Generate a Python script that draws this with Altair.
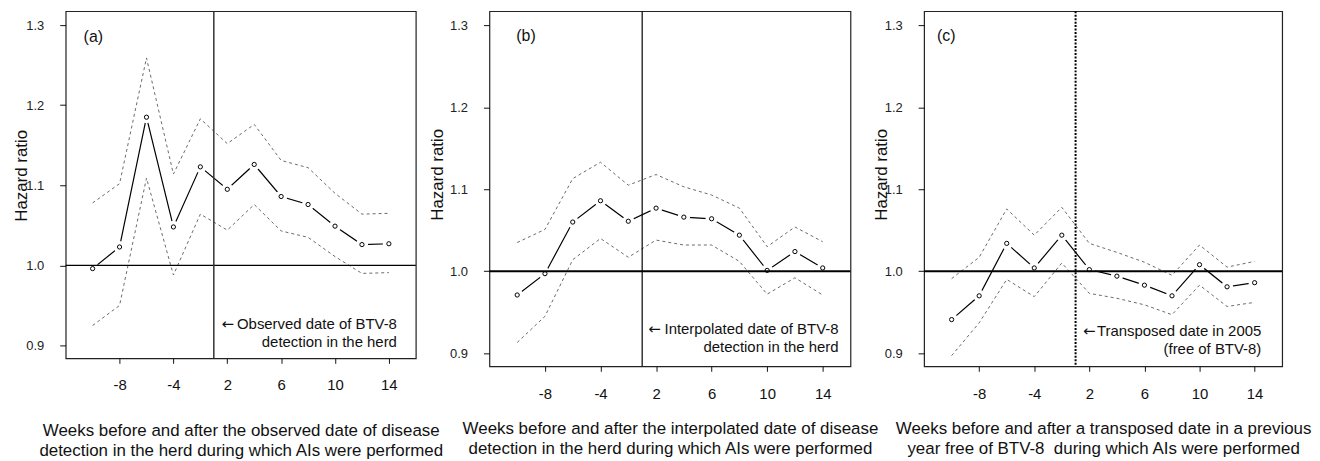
import altair as alt
import pandas as pd

# ---------------- data ----------------
weeks = [-10, -8, -6, -4, -2, 2, 4, 6, 8, 10, 12, 14]
tick_weeks = [-8, -4, 2, 6, 10, 14]
y_ticks = [0.9, 1.0, 1.1, 1.2, 1.3]

a_hr = [0.996, 1.023, 1.185, 1.048, 1.123, 1.095, 1.126, 1.086, 1.076, 1.049, 1.026, 1.027]
a_up = [1.078, 1.102, 1.259, 1.114, 1.183, 1.152, 1.176, 1.131, 1.122, 1.090, 1.064, 1.065]
a_lo = [0.925, 0.950, 1.109, 0.988, 1.064, 1.044, 1.076, 1.043, 1.035, 1.011, 0.990, 0.991]

b_hr = [0.971, 0.997, 1.060, 1.086, 1.061, 1.077, 1.066, 1.064, 1.044, 1.001, 1.024, 1.004]
b_up = [1.035, 1.051, 1.113, 1.133, 1.105, 1.118, 1.103, 1.093, 1.077, 1.030, 1.054, 1.036]
b_lo = [0.913, 0.945, 1.014, 1.040, 1.017, 1.038, 1.032, 1.032, 1.012, 0.972, 0.992, 0.971]

c_hr = [0.941, 0.970, 1.034, 1.004, 1.044, 1.002, 0.994, 0.983, 0.970, 1.008, 0.981, 0.986]
c_up = [0.991, 1.017, 1.076, 1.044, 1.078, 1.034, 1.023, 1.011, 0.995, 1.032, 1.005, 1.012]
c_lo = [0.897, 0.937, 0.990, 0.969, 1.010, 0.973, 0.967, 0.959, 0.947, 0.983, 0.957, 0.962]

panel_labels = ["(a)", "(b)", "(c)"]
arrow = "\u2190"
notes = [
    ["Observed date of BTV-8", "detection in the herd"],
    ["Interpolated date of BTV-8", "detection in the herd"],
    ["Transposed date in 2005", "(free of BTV-8)"],
]
x_titles = [
    ["Weeks before and after the observed date of disease",
     "detection in the herd during which AIs were performed"],
    ["Weeks before and after the interpolated date of disease",
     "detection in the herd during which AIs were performed"],
    ["Weeks before and after a transposed date in a previous",
     "year free of BTV-8\u00a0 during which AIs were performed"],
]
y_title = "Hazard ratio"

FONT = "Liberation Sans"
Y_DOMAIN = [0.884, 1.3173]

# index position of each tick week, and the event position between -2 and 2
tick_idx = [weeks.index(w) for w in tick_weeks]
event_idx = (weeks.index(-2) + weeks.index(2)) / 2
label_expr = "[" + ",".join(str(w) for w in weeks) + "][datum.value]"


def panel(hr, up, lo, label, note, xtitle, width, height, ytitle_x, ytitle_y,
          xtitle_y, xlab_pad, label_pos, note_pos, arrow_pos, href_w, vrule_style):
    df = pd.DataFrame({"idx": list(range(len(weeks))), "hr": hr, "up": up, "lo": lo})
    x_enc = alt.X(
        "idx:Q",
        scale=alt.Scale(domain=[-1, 12], nice=False, zero=False),
        axis=alt.Axis(
            values=tick_idx, labelExpr=label_expr, title=xtitle, grid=False,
            domain=False, tickSize=5, tickColor="#111", tickWidth=1,
            labelFontSize=15, labelPadding=xlab_pad, labelColor="#111",
            titleFontSize=17, titleFontWeight="normal", titleColor="#111",
            titleY=xtitle_y, titleBaseline="alphabetic", titleLineHeight=20,
        ),
    )
    y_enc = alt.Y(
        "hr:Q",
        scale=alt.Scale(domain=Y_DOMAIN, nice=False, zero=False),
        axis=alt.Axis(
            values=y_ticks, format=".1f", title=y_title, grid=False,
            domain=False, tickSize=6, tickColor="#111", tickWidth=1,
            labelFontSize=13, labelPadding=16, labelColor="#222",
            titleFontSize=17, titleFontWeight="normal", titleColor="#111",
            titleX=ytitle_x, titleY=ytitle_y, titleAngle=270,
            titleBaseline="middle", titleAlign="center",
        ),
    )
    base = alt.Chart(df)
    mean_line = base.mark_line(color="black", strokeWidth=1.2).encode(x=x_enc, y=y_enc)
    gaps = base.mark_point(shape="circle", filled=True, color="white", size=150,
                           opacity=1).encode(x=x_enc, y=y_enc)
    up_line = base.mark_line(color="#6a6a6a", strokeWidth=1, strokeDash=[3, 3]).encode(
        x=x_enc, y=alt.Y("up:Q"))
    lo_line = base.mark_line(color="#6a6a6a", strokeWidth=1, strokeDash=[3, 3]).encode(
        x=x_enc, y=alt.Y("lo:Q"))
    pts = base.mark_point(shape="circle", filled=False, color="black", size=18,
                          strokeWidth=1, opacity=1).encode(x=x_enc, y=y_enc)
    href = alt.Chart(pd.DataFrame({"hr": [1.0]})).mark_rule(
        color="black", strokeWidth=href_w).encode(y=y_enc)
    vref = alt.Chart(pd.DataFrame({"idx": [event_idx]})).mark_rule(**vrule_style).encode(x=x_enc)
    lab = alt.Chart(pd.DataFrame({"t": [label]})).mark_text(
        align="left", baseline="middle", fontSize=16, color="#111", font=FONT
    ).encode(x=alt.value(label_pos[0]), y=alt.value(label_pos[1]), text="t:N")
    nt = alt.Chart(pd.DataFrame({"t": [0]})).mark_text(
        align="right", baseline="alphabetic", fontSize=15, lineHeight=18,
        color="#111", font=FONT
    ).encode(x=alt.value(note_pos[0]), y=alt.value(note_pos[1]), text=alt.value(note))
    arr = alt.Chart(pd.DataFrame({"t": [arrow]})).mark_text(
        align="center", baseline="middle", fontSize=15, color="#111", font="DejaVu Sans"
    ).encode(x=alt.value(arrow_pos[0]), y=alt.value(arrow_pos[1]), text="t:N")
    return alt.layer(mean_line, gaps, up_line, lo_line, href, vref, pts, lab, nt, arr).properties(
        width=width, height=height)


pa = panel(a_hr, a_up, a_lo, panel_labels[0], notes[0], x_titles[0], 352, 349,
           -44, 165, 77.5, 14, (18, 26), (333, 320), (163, 314.5), 1.2,
           dict(color="#333", strokeWidth=1.5))
pb = panel(b_hr, b_up, b_lo, panel_labels[1], notes[1], x_titles[1], 363, 357,
           -52.5, 164, 67.5, 15, (27, 25), (351, 325), (166, 320), 2,
           dict(color="black", strokeWidth=1.2))
pc = panel(c_hr, c_up, c_lo, panel_labels[2], notes[2], x_titles[2], 360, 357,
           -43, 164, 67.5, 15, (13, 24.5), (339, 327), (166, 322), 2,
           dict(color="black", strokeWidth=2, strokeDash=[2, 1.5]))

chart = alt.hconcat(pa, pb, pc, spacing=74, bounds="flush").properties(
    padding={"left": 4, "top": 0, "right": 0, "bottom": 0}
).configure(font=FONT).configure_view(stroke="#222", strokeWidth=1.2)

chart.save("out.html", embed_options={"renderer": "svg", "actions": False})
